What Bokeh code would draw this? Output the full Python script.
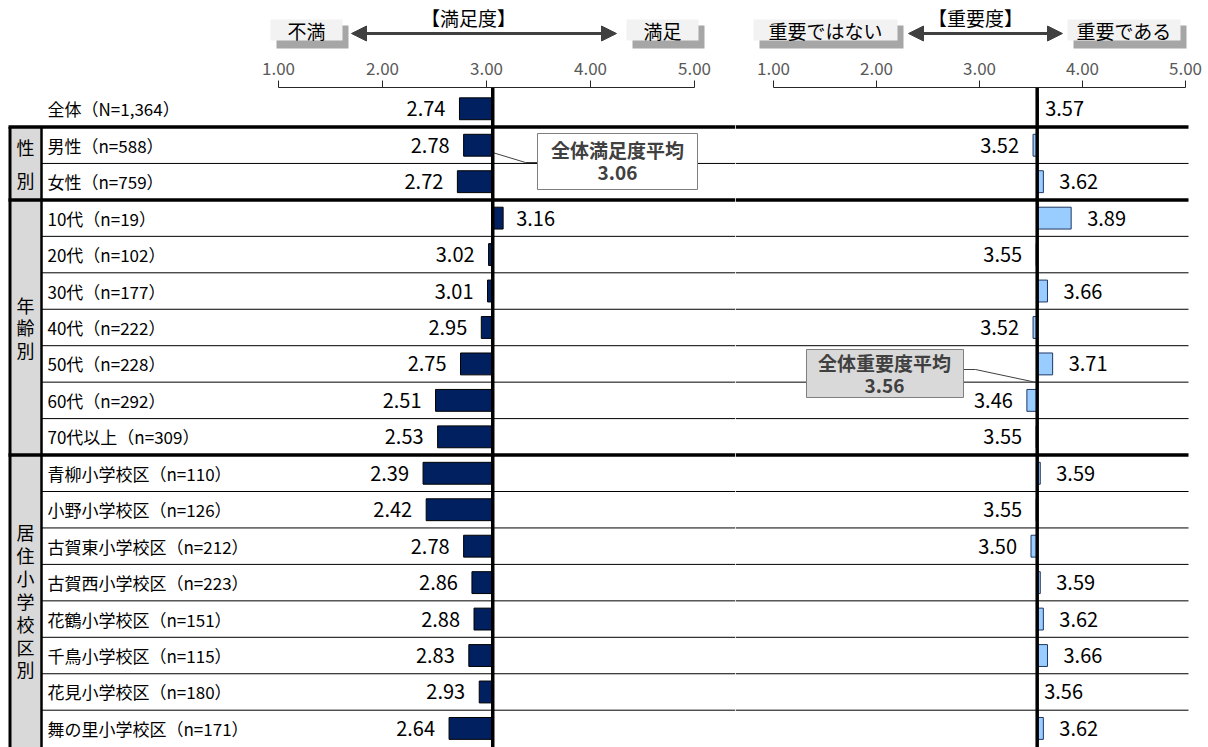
import numpy as np
from bokeh.plotting import figure
from bokeh.layouts import row, column
from bokeh.models import (Range1d, FixedTicker, NumeralTickFormatter, Span,
                          Arrow, NormalHead, ColumnDataSource)
from bokeh.embed import file_html
from bokeh.resources import INLINE
from bokeh.core.properties import value

# ---------------- data ----------------
categories = ["全体（N=1,364）", "男性（n=588）", "女性（n=759）", "10代（n=19）", "20代（n=102）",
              "30代（n=177）", "40代（n=222）", "50代（n=228）", "60代（n=292）", "70代以上（n=309）",
              "青柳小学校区（n=110）", "小野小学校区（n=126）", "古賀東小学校区（n=212）",
              "古賀西小学校区（n=223）", "花鶴小学校区（n=151）", "千鳥小学校区（n=115）",
              "花見小学校区（n=180）", "舞の里小学校区（n=171）"]
satisfaction = [2.74, 2.78, 2.72, 3.16, 3.02, 3.01, 2.95, 2.75, 2.51, 2.53,
                2.39, 2.42, 2.78, 2.86, 2.88, 2.83, 2.93, 2.64]
importance = [3.57, 3.52, 3.62, 3.89, 3.55, 3.66, 3.52, 3.71, 3.46, 3.55,
              3.59, 3.55, 3.50, 3.59, 3.62, 3.66, 3.56, 3.62]
sat_mean = 3.06
imp_mean = 3.56
groups = ["性別", "年齢別", "居住小学校区別"]
group_first = [1, 3, 10]
group_last = [2, 9, 17]
tick_values = [1, 2, 3, 4, 5]
sat_title, sat_low, sat_high = "【満足度】", "不満", "満足"
imp_title, imp_low, imp_high = "【重要度】", "重要ではない", "重要である"
sat_callout = "全体満足度平均"
imp_callout = "全体重要度平均"

# ---------------- layout constants (page pixels) ----------------
FONT = "Noto Sans CJK JP"
PAGE_W, PAGE_H = 1208, 747
SPLIT = 735
HEAD_H = 50
FRAME_TOP = 87
SAT_X1, SAT_PPU = 278, 104.0
IMP_X1, IMP_PPU = 773, 103.0
ROW1_TOP, ROW_H = 126.5, 36.45

def sx(px):
    return 1 + (px - SAT_X1) / SAT_PPU

def ix(px):
    return 1 + (px - IMP_X1) / IMP_PPU

def ry(py):
    return 0.5 + (py - ROW1_TOP) / ROW_H

n = len(categories)
rows = np.arange(n)
sat = np.array(satisfaction)
imp = np.array(importance)

# ---------------- header strip ----------------
hf = figure(width=PAGE_W, height=HEAD_H, x_range=Range1d(0, PAGE_W), y_range=Range1d(HEAD_H, 0),
            x_axis_location=None, y_axis_location=None, output_backend="svg",
            toolbar_location=None, min_border=0)
hf.grid.visible = False
hf.outline_line_color = None

box_specs = [(sat_low, 270, 342), (sat_high, 626, 698), (imp_low, 753, 897), (imp_high, 1067, 1180)]
hf.quad(left=[b[1] + 6 for b in box_specs], right=[b[2] + 6 for b in box_specs],
        top=[25] * 4, bottom=[48] * 4, fill_color="#a6a6a6", line_color=None)
hf.quad(left=[b[1] for b in box_specs], right=[b[2] for b in box_specs],
        top=[19] * 4, bottom=[40] * 4, fill_color="#f2f2f2", line_color=None)
hf.text(x=[(b[1] + b[2]) / 2 for b in box_specs], y=[30] * 4, text=[b[0] for b in box_specs],
        text_align="center", text_baseline="middle", text_font=value(FONT),
        text_font_size="19px", text_color="black")
hf.text(x=[468, 975], y=[17, 17], text=[sat_title, imp_title], text_align="center",
        text_baseline="middle", text_font=value(FONT), text_font_size="19px", text_color="black")
for a0, a1 in ((351, 616), (908, 1062)):
    hf.add_layout(Arrow(x_start=a0, y_start=33, x_end=a1, y_end=33,
                        line_color="#404040", line_width=3,
                        start=NormalHead(size=15, fill_color="#404040", line_color="#404040"),
                        end=NormalHead(size=15, fill_color="#404040", line_color="#404040")))


def make_fig(x0, x1, w):
    p = figure(width=w, height=PAGE_H - HEAD_H, x_range=Range1d(x0, x1),
               y_range=Range1d(ry(PAGE_H), ry(FRAME_TOP)),
               x_axis_location="above", y_axis_location=None,
               output_backend="svg", toolbar_location=None,
               min_border_top=FRAME_TOP - HEAD_H, min_border_left=0,
               min_border_right=0, min_border_bottom=0)
    p.grid.visible = False
    p.outline_line_color = None
    ax = p.xaxis[0]
    ax.ticker = FixedTicker(ticks=tick_values, minor_ticks=[])
    ax.formatter = NumeralTickFormatter(format="0.00")
    ax.bounds = (1, 5)
    ax.major_tick_out = 7
    ax.major_tick_in = 0
    ax.minor_tick_out = 0
    ax.minor_tick_in = 0
    ax.major_label_standoff = 6
    ax.major_label_text_font = FONT
    ax.major_label_text_font_size = "17px"
    ax.major_label_text_color = "#595959"
    ax.axis_line_color = "#262626"
    ax.major_tick_line_color = "#262626"
    return p


def row_lines(p, conv, x_thin0, x_thick0, x_end):
    thick = [0.5, 2.5, 9.5]
    thin = [b + 0.5 for b in range(1, n - 1) if (b + 0.5) not in thick]
    p.segment(x0=[conv(x_thin0)] * len(thin), x1=[conv(x_end)] * len(thin), y0=thin, y1=thin,
              line_color="black", line_width=1)
    p.segment(x0=[conv(x_thick0)] * len(thick), x1=[conv(x_end)] * len(thick), y0=thick, y1=thick,
              line_color="black", line_width=3.5)


# ---------------- left figure: satisfaction ----------------
pl = make_fig(sx(0), sx(SPLIT), SPLIT)

bottom_r = ry(PAGE_H + 20)
pl.quad(left=[sx(9)], right=[sx(41)], top=[0.5], bottom=[bottom_r], fill_color="#d9d9d9", line_color=None)
pl.segment(x0=[sx(9.5)], x1=[sx(9.5)], y0=[0.5], y1=[bottom_r], line_color="black", line_width=3)
pl.segment(x0=[sx(41)], x1=[sx(41)], y0=[0.5], y1=[bottom_r], line_color="black", line_width=2.5)
row_lines(pl, sx, 41, 8, SPLIT)

for g, a, b in zip(groups, group_first, group_last):
    lh = 1.27 if len(g) == 2 else 0.88
    pl.text(x=[sx(25)], y=[(a + b) / 2], text=["\n".join(g)], text_align="center",
            text_baseline="middle", text_font=value(FONT), text_font_size="18px",
            text_color="black", text_line_height=lh)

pl.text(x=[sx(47)] * n, y=rows, text=categories, text_align="left", text_baseline="middle",
        text_font=value(FONT), text_font_size="17px", text_color="black")

pl.hbar(y=rows, left=np.minimum(sat, sat_mean), right=np.maximum(sat, sat_mean), height=0.6,
        fill_color="#002060", line_color="black", line_width=1)
pl.add_layout(Span(location=sat_mean, dimension="height", line_color="black", line_width=3.5))

sat_below = sat < sat_mean
src_s = ColumnDataSource(dict(
    x=sat, y=rows, t=[f"{v:.2f}" for v in sat],
    off=np.where(sat_below, -14, 13), al=np.where(sat_below, "right", "left")))
pl.text(x="x", y="y", text="t", x_offset="off", text_align="al", source=src_s,
        text_baseline="middle", text_font=value(FONT), text_font_size="20px", text_color="black")

pl.line(x=[sx(492), sx(525), sx(537)], y=[ry(152), ry(162), ry(162)], line_color="#404040", line_width=1)
pl.quad(left=[sx(537)], right=[sx(697)], top=[ry(133)], bottom=[ry(189)],
        fill_color="white", line_color="#7f7f7f", line_width=1)
pl.text(x=[sx(617), sx(617)], y=[ry(149), ry(172)], text=[sat_callout, f"{sat_mean:.2f}"],
        text_align="center", text_baseline="middle", text_font=value(FONT), text_font_size="19px",
        text_font_style="bold", text_color="#404040")

# ---------------- right figure: importance ----------------
pr = make_fig(ix(SPLIT), ix(PAGE_W), PAGE_W - SPLIT)
row_lines(pr, ix, SPLIT, SPLIT, 1188)

pr.hbar(y=rows, left=np.minimum(imp, imp_mean), right=np.maximum(imp, imp_mean), height=0.6,
        fill_color="#99ccff", line_color="#1f3864", line_width=1)
pr.add_layout(Span(location=imp_mean, dimension="height", line_color="black", line_width=3.5))

imp_above = imp >= imp_mean
src_i = ColumnDataSource(dict(
    x=imp, y=rows, t=[f"{v:.2f}" for v in imp],
    off=np.where(imp_above, np.where(imp - imp_mean >= 0.02, 16, 7), -14),
    al=np.where(imp_above, "left", "right")))
pr.text(x="x", y="y", text="t", x_offset="off", text_align="al", source=src_i,
        text_baseline="middle", text_font=value(FONT), text_font_size="20px", text_color="black")

pr.line(x=[ix(963), ix(975), ix(1036)], y=[ry(369), ry(369), ry(382)], line_color="#404040", line_width=1)
pr.quad(left=[ix(806)], right=[ix(963)], top=[ry(349)], bottom=[ry(397)],
        fill_color="#d9d9d9", line_color="#7f7f7f", line_width=1)
pr.text(x=[ix(884), ix(884)], y=[ry(362), ry(385)], text=[imp_callout, f"{imp_mean:.2f}"],
        text_align="center", text_baseline="middle", text_font=value(FONT), text_font_size="19px",
        text_font_style="bold", text_color="#404040")

layout = column(hf, row(pl, pr, spacing=0), spacing=0)
open("out.html", "w").write(file_html(layout, INLINE))
